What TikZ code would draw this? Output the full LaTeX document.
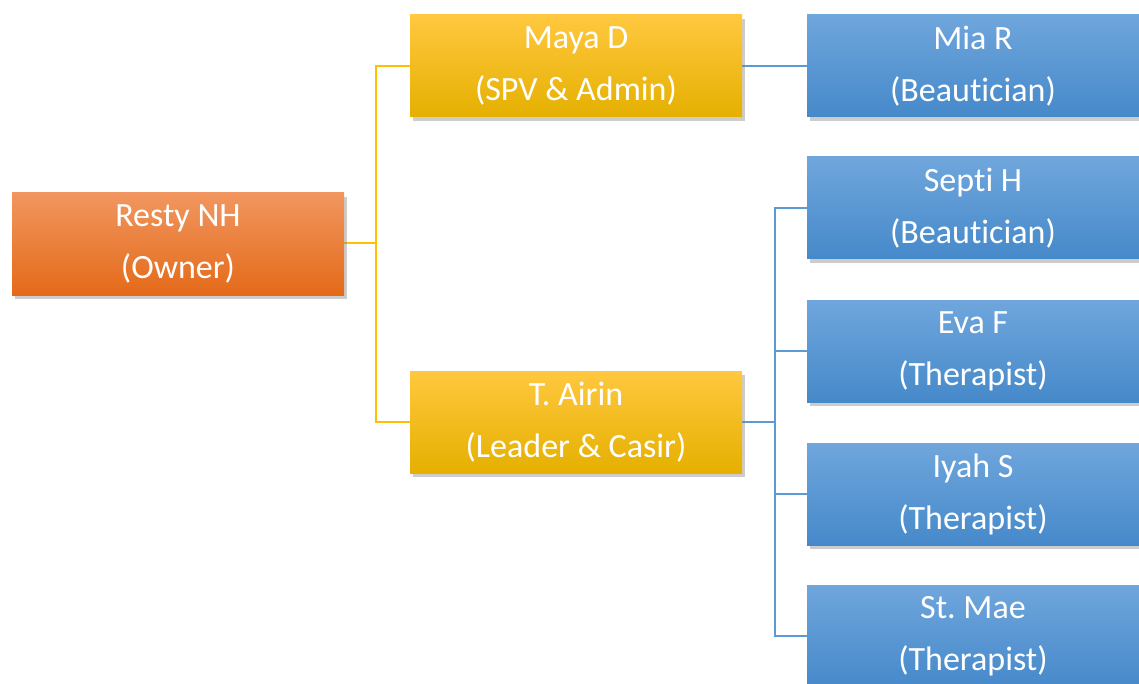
\documentclass[tikz,border=0pt]{standalone}
\usepackage{fontspec}
\setmainfont[Ligatures=NoCommon]{Carlito}
\usetikzlibrary{shadows,backgrounds}
\definecolor{orT}{HTML}{F1965F}
\definecolor{orM}{HTML}{F27E2E}
\definecolor{orB}{HTML}{E46A19}
\definecolor{goT}{HTML}{FFC83F}
\definecolor{goM}{HTML}{FFC000}
\definecolor{goB}{HTML}{E5B000}
\definecolor{blT}{HTML}{6FA6DC}
\definecolor{blM}{HTML}{5599D8}
\definecolor{blB}{HTML}{4689CA}
\definecolor{goLine}{HTML}{FFC000}
\definecolor{blLine}{HTML}{5B9BD5}
\tikzset{
  box/.style={minimum width=332pt, minimum height=102pt, inner sep=0pt, align=center,
    text=white, font=\fontsize{34}{52}\selectfont\frenchspacing,
    drop shadow={opacity=0.4, shadow xshift=3pt, shadow yshift=-4pt}},
  orbox/.style={box, top color=orT, middle color=orM, bottom color=orB},
  gobox/.style={box, top color=goT, middle color=goM, bottom color=goB},
  blbox/.style={box, top color=blT, middle color=blM, bottom color=blB},
  goconn/.style={draw=goLine, line width=2pt},
  blconn/.style={draw=blLine, line width=2pt}
}
\begin{document}
\begin{tikzpicture}[x=1pt,y=-1pt]
\useasboundingbox (0,0) rectangle (1139,684);
\node[orbox] (resty) at (178,244) {Resty NH\\(Owner)};
\node[gobox] (maya) at (576,66) {Maya D\\(SPV \& Admin)};
\node[gobox] (airin) at (576,422) {T. Airin\\(Leader \& Casir)};
\node[blbox] (mia) at (973,66) {Mia R\\(Beautician)};
\node[blbox] (septi) at (973,208) {Septi H\\(Beautician)};
\node[blbox] (eva) at (973,351) {Eva F\\(Therapist)};
\node[blbox] (iyah) at (973,494) {Iyah S\\(Therapist)};
\node[blbox] (mae) at (973,636) {St. Mae\\(Therapist)};
\coordinate (j1) at (376,243);
\coordinate (j2) at (775,422);
\begin{pgfonlayer}{background}
\fill[white] (0,0) rectangle (1139,684);
\draw[goconn] (resty.east |- j1) -- (j1);
\draw[goconn] (maya.west) -| (j1) |- (airin.west);
\draw[blconn] (maya.east) -- (mia.west);
\draw[blconn] (airin.east) -- (j2);
\draw[blconn] (septi.west) -| (j2) |- (mae.west);
\draw[blconn] (eva.west) -- (eva.west -| j2);
\draw[blconn] (iyah.west) -- (iyah.west -| j2);
\end{pgfonlayer}
\end{tikzpicture}
\end{document}
